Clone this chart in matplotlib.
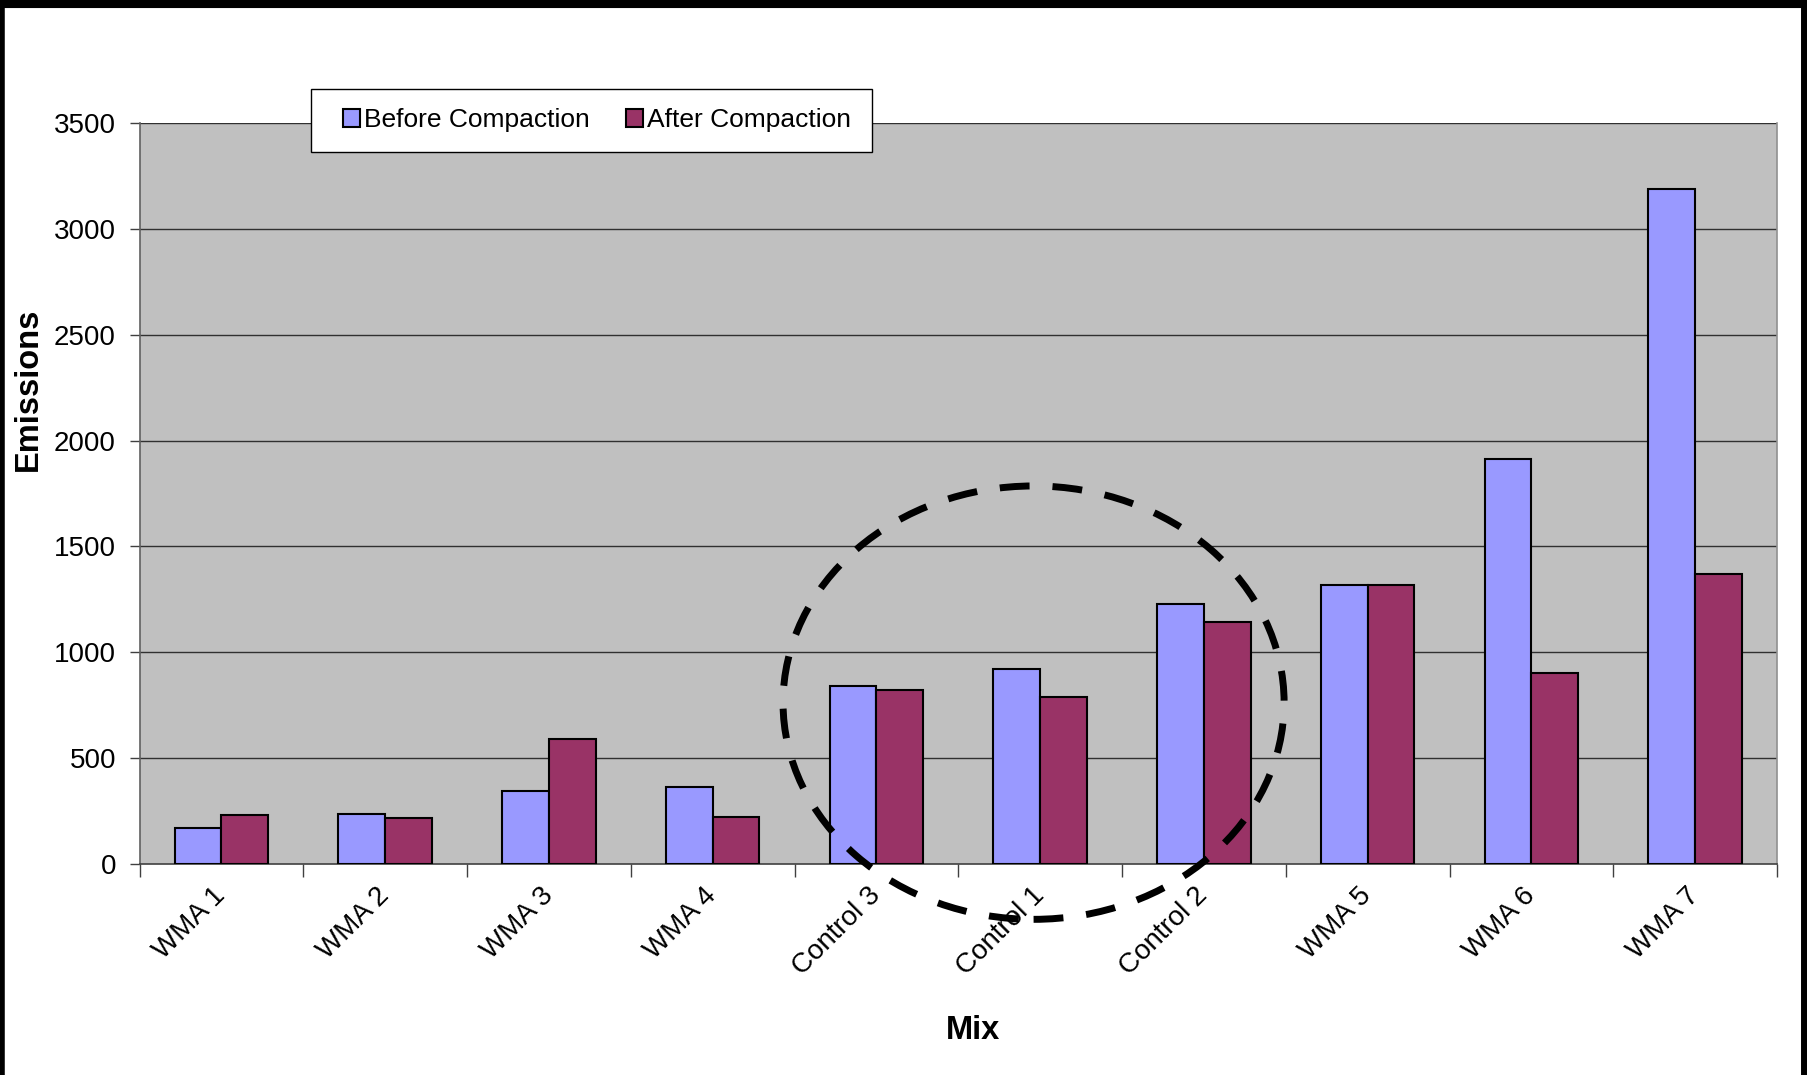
import numpy as np
import matplotlib.pyplot as plt
from matplotlib.patches import Ellipse, Rectangle
from matplotlib.lines import Line2D

plt.rcParams['font.family'] = ['Liberation Sans', 'DejaVu Sans']

mixes = ['WMA 1', 'WMA 2', 'WMA 3', 'WMA 4', 'Control 3', 'Control 1',
         'Control 2', 'WMA 5', 'WMA 6', 'WMA 7']
before = [169, 234, 343, 365, 843, 923, 1228, 1317, 1914, 3187]
after = [229, 218, 588, 223, 821, 790, 1145, 1317, 904, 1370]
yticks = [0, 500, 1000, 1500, 2000, 2500, 3000, 3500]

# dashed ring around the control mixes (x in category units, y in emissions)
ring_center = (4.96, 762)
ring_size = (3.06, 2047)

FS = 20

fig = plt.figure(figsize=(18.07, 10.75), dpi=100)
ax = fig.add_axes([0.0772, 0.1963, 0.9062, 0.6893])
ax.set_facecolor('#C0C0C0')

x = np.arange(len(mixes))
w = 0.2857
ax.bar(x - w / 2, before, w, color='#9999FF', edgecolor='black', linewidth=1.5,
       label='Before Compaction', zorder=3)
ax.bar(x + w / 2, after, w, color='#993366', edgecolor='black', linewidth=1.5,
       label='After Compaction', zorder=3)

ax.set_xlim(-0.5, len(mixes) - 0.5)
ax.set_ylim(0, 3500)
ax.set_yticks(yticks)
ax.set_yticklabels([str(v) for v in yticks], fontsize=FS)
for v in yticks[1:]:
    ax.axhline(v, color='#303030', linewidth=1.0, zorder=1)

# category ticks sit on the boundaries, labels at the centres
ax.set_xticks(np.arange(len(mixes) + 1) - 0.5)
ax.set_xticklabels([])
ax.set_xticks(x, minor=True)
ax.set_xticklabels(mixes, minor=True, fontsize=FS, rotation=45,
                   ha='right', va='center', rotation_mode='anchor')
ax.tick_params(axis='x', which='minor', length=0, pad=20)
ax.tick_params(axis='x', which='major', length=9, width=1, color='#404040')
ax.tick_params(axis='y', length=7, width=1, color='#404040', pad=10)

ax.spines['top'].set_visible(False)
ax.spines['right'].set_color('#909090')
ax.spines['left'].set_color('#606060')
ax.spines['bottom'].set_color('#404040')
for s in ax.spines.values():
    s.set_linewidth(1.2)

ring = Ellipse(ring_center, ring_size[0], ring_size[1], fill=False,
               edgecolor='black', linewidth=5, linestyle=(0, (4.3, 3.3)),
               clip_on=False, zorder=5)
ring.set_capstyle('butt')
ax.add_patch(ring)

fig.text(0.0155, 0.638, 'Emissions', rotation=90, fontsize=23.5,
         fontweight='bold', ha='center', va='center')
fig.text(0.5385, 0.041, 'Mix', fontsize=23.5, fontweight='bold',
         ha='center', va='center')

# legend box drawn separately so the entries can sit off-centre in it
fig.add_artist(Rectangle((0.1721, 0.8586), 0.3105, 0.0586,
                         transform=fig.transFigure, facecolor='white',
                         edgecolor='black', linewidth=1.0, zorder=9))
leg = fig.legend(loc='center', bbox_to_anchor=(0.3304, 0.888), ncol=2,
                 fontsize=19, frameon=False, borderpad=0,
                 handlelength=0.65, handleheight=0.65,
                 handletextpad=0.15, columnspacing=1.35)
leg.set_zorder(10)

# black frame around the chart
for xs, ys, lw in [([0, 1], [0.998, 0.998], 8),
                   ([0.001, 0.001], [0, 1], 4),
                   ([0.9985, 0.9985], [0, 1], 5)]:
    fig.add_artist(Line2D(xs, ys, color='black', linewidth=lw,
                          transform=fig.transFigure))

fig.savefig('out.png', dpi=100)
